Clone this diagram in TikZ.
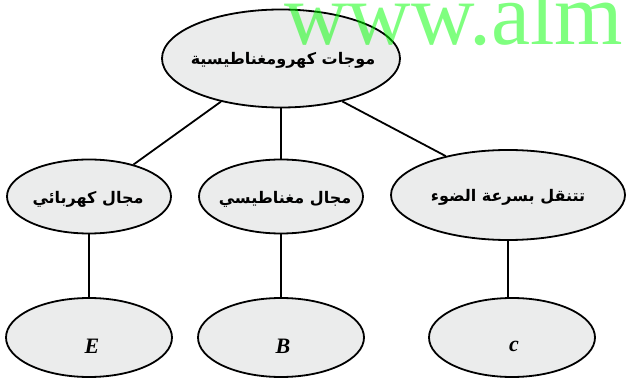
\documentclass[tikz,border=0pt]{standalone}
\usepackage{fontspec}
\setmainfont{Liberation Serif}
\newfontfamily\arabicbf[Script=Arabic]{DejaVu Sans Bold}
\TeXXeTstate=1
\usetikzlibrary{shapes.geometric}
\definecolor{ellfill}{RGB}{235,236,236}
\definecolor{wmgreen}{RGB}{0,255,0}
\begin{document}
\begin{tikzpicture}[x=1pt,y=-1pt,
  ell/.style={ellipse,draw=black,line width=1.8pt,fill=ellfill,inner sep=0pt},
  lab/.style={font=\arabicbf\fontsize{16}{18}\selectfont,inner sep=0pt},
  sym/.style={font=\bfseries\itshape\fontsize{22}{24}\selectfont,inner sep=0pt},
  conn/.style={line width=1.8pt}]
\useasboundingbox (0,0) rectangle (626,379);
\clip (0,0) rectangle (626,379);
\node[ell,minimum width=238,minimum height=98] (top) at (281,58.5) {};
\node[ell,minimum width=164,minimum height=74] (ml) at (89,196.5) {};
\node[ell,minimum width=164,minimum height=74] (mm) at (281,196.5) {};
\node[ell,minimum width=234,minimum height=90] (mr) at (508,195) {};
\node[ell,minimum width=166,minimum height=79] (bl) at (89,337.5) {};
\node[ell,minimum width=166,minimum height=79] (bm) at (281,337.5) {};
\node[ell,minimum width=166,minimum height=79] (br) at (512,337.5) {};
\draw[conn] (top) -- (ml);
\draw[conn] (top) -- (mm);
\draw[conn] (top.-35) -- (mr.148);
\draw[conn] (ml) -- (bl);
\draw[conn] (mm) -- (bm);
\draw[conn] (mr.south) -- (mr.south |- br.north);
% labels
\node[lab] (topt) at (283,60) {\beginR موجات كهرومغناطيسية\endR};
\node[lab] (mlt) at (88,199) {\beginR مجال كهربائي\endR};
\node[lab] (mmt) at (285,199) {\beginR مجال مغناطيسي\endR};
\node[lab] (mrt) at (508,197) {\beginR تتنقل بسرعة الضوء\endR};
\node[sym] (blt) at (92,346) {E};
\node[sym] (bmt) at (283,346) {B};
\node[sym] (brt) at (514,346) {c};
% watermark
\node[text=wmgreen,text opacity=0.5,font=\fontsize{88}{88}\selectfont,anchor=base west,inner sep=0pt] (wm) at (284,45) {www.alm};
\end{tikzpicture}
\end{document}
